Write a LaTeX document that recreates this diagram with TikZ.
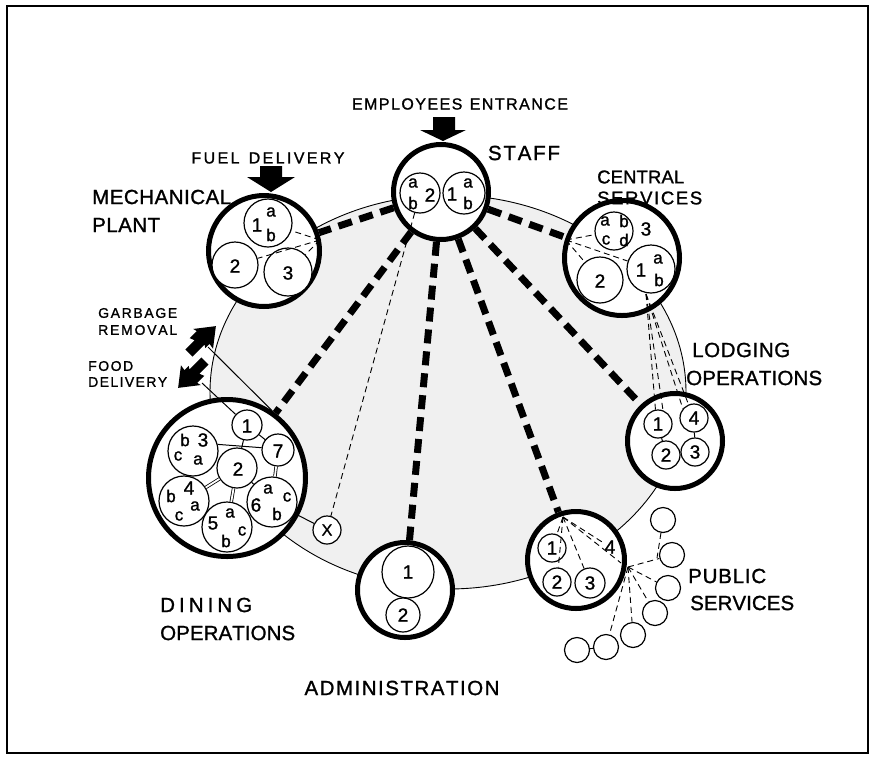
\documentclass[tikz,border=0pt]{standalone}
\usepackage{fontspec}
\setmainfont{Liberation Sans}[FakeBold=1.2]
\def\spreadloop#1{\ifx#1\relax\else#1\hfil\expandafter\spreadloop\fi}
\newcommand\spread[2]{\hbox to #1{\spreadloop#2\relax\unskip}}
\newcommand\Lg{\fontsize{20.5}{20.5}\selectfont}
\newcommand\Lm{\fontsize{18.5}{18.5}\selectfont}
\newcommand\Ls{\fontsize{16}{16}\selectfont}
\newcommand\Lxs{\fontsize{14}{14}\selectfont}
\newcommand\nf{\fontsize{19}{19}\selectfont}
\newcommand\lf{\fontsize{17}{17}\selectfont}
\begin{document}
\begin{tikzpicture}[x=1pt,y=-1pt,
  big/.style={circle, draw, line width=5pt, fill=white, inner sep=0pt},
  sm/.style={circle, draw, line width=1.2pt, fill=white, inner sep=0pt},
  heavy/.style={line width=7pt, dash pattern=on 14pt off 8pt},
  thind/.style={line width=0.9pt, dash pattern=on 6pt off 4pt},
  thinl/.style={line width=1pt},
  dbl/.style={double, double distance=1.8pt, line width=0.8pt},
  lbl/.style={inner sep=0pt, anchor=west},
  txt/.style={inner sep=0pt},
  numt/.style={inner sep=0pt, font=\nf},
  lett/.style={inner sep=0pt, font=\lf}]
\useasboundingbox (0,0) rectangle (875,756);
\draw[line width=1.8pt] (7,6) rectangle (868,753);
% stippled field
\draw[line width=0.9pt, fill=black!6] (448,392) ellipse [x radius=238, y radius=197];

% main nodes
\node[big, minimum size=95pt] (staff) at (441,192) {};
\node[big, minimum size=111pt] (mp) at (264,251) {};
\node[big, minimum size=115pt] (cs) at (622,258) {};
\node[big, minimum size=95pt] (lod) at (675,441) {};
\node[big, minimum size=97pt] (ps) at (576,560) {};
\node[big, minimum size=95pt] (adm) at (405,590) {};
\node[big, minimum size=157pt] (din) at (227,478) {};

% staff inner
\node[sm, minimum size=40pt] (stl) at (420,193) {};
\node[lett] at (413,183) {a};
\node[lett] at (413,203) {b};
\node[numt] at (430,195) {2};
\node[sm, minimum size=42pt] (str) at (464,193) {};
\node[numt] at (452,194) {1};
\node[lett] at (468,183) {a};
\node[lett] at (468,203) {b};

% mechanical plant inner
\node[sm, minimum size=48pt] (mp1) at (268,223) {};
\node[numt] at (257,225) {1};
\node[lett] at (271,212) {a};
\node[lett] at (271,235) {b};
\node[sm, minimum size=46pt] (mp2) at (235,265) {};
\node[numt] at (235,266) {2};
\node[sm, minimum size=48pt] (mp3) at (288,272) {};
\node[numt] at (288,273) {3};

% central services inner
\node[sm, minimum size=38pt] (cs3) at (614,231) {};
\node[lett] at (605,221) {a};
\node[lett] at (624,221) {b};
\node[lett] at (606,240) {c};
\node[lett] at (624,240) {d};
\node[numt] at (646,229) {3};
\node[sm, minimum size=46pt] (cs2) at (600,280) {};
\node[numt] at (600,281) {2};
\node[sm, minimum size=48pt] (cs1) at (651,269) {};
\node[numt] at (641,270) {1};
\node[lett] at (658,259) {a};
\node[lett] at (659,280) {b};

% lodging inner
\node[sm, minimum size=28pt, font=\nf] (l1) at (658,424) {1};
\node[sm, minimum size=28pt, font=\nf] (l4) at (694,418) {4};
\node[sm, minimum size=28pt, font=\nf] (l2) at (666,455) {2};
\node[sm, minimum size=28pt, font=\nf] (l3) at (695,452) {3};
\draw[thinl] (l1) -- (l2);
\draw[thinl] (l4) -- (l3);

% public services inner
\node[sm, minimum size=28pt, font=\nf] (ps1) at (552,548) {1};
\node[sm, minimum size=28pt, font=\nf] (ps2) at (557,582) {2};
\node[sm, minimum size=30pt, font=\nf] (ps3) at (590,583) {3};
\node[numt] (ps4) at (610,547) {4};

% administration inner
\node[sm, minimum size=52pt, font=\nf] (a1) at (408,572) {1};
\node[sm, minimum size=34pt, font=\nf] (a2) at (403,615) {2};

% dining inner
\node[sm, minimum size=30pt] (d1) at (247,425) {};
\node[sm, minimum size=32pt] (d7) at (278,450) {};
\node[sm, minimum size=50pt] (d3) at (193,451) {};
\node[sm, minimum size=40pt] (d2) at (237,468) {};
\node[sm, minimum size=50pt] (d4) at (184,501) {};
\node[sm, minimum size=50pt] (d6) at (272,502) {};
\node[sm, minimum size=50pt] (d5) at (227,527) {};
\draw[thinl] (d3.15) -- (d7.172);
\draw[thinl] (d1) -- (d7);
\draw[thinl] (d1) -- (d2);
\draw[dbl] (d4) -- (d2);
\draw[dbl] (d2) -- (d5);
\draw[thinl] (d2) -- (d6);
\draw[dbl] (d7) -- (d6);
\node[numt] at (247,426) {1};
\node[numt] at (278,451) {7};
\node[numt] at (238,469) {2};
\node[lett] at (185,440) {b};
\node[numt] at (203,440) {3};
\node[lett] at (178,456) {c};
\node[lett] at (198,460) {a};
\node[lett] at (171,496) {b};
\node[numt] at (189,488) {4};
\node[lett] at (195,506) {a};
\node[lett] at (179,516) {c};
\node[numt] at (256,505) {6};
\node[lett] at (268,489) {a};
\node[lett] at (287,497) {c};
\node[lett] at (277,514) {b};
\node[numt] at (213,523) {5};
\node[lett] at (230,513) {a};
\node[lett] at (242,531) {c};
\node[lett] at (226,541) {b};

% X
\node[sm, minimum size=28pt, font=\Ls] (xn) at (327,530) {X};
\draw[thinl] (d6) -- (xn);

% public services small circles
\node[sm, minimum size=25pt] (p1) at (663,520) {};
\node[sm, minimum size=25pt] (p2) at (672,555) {};
\node[sm, minimum size=25pt] (p3) at (668,588) {};
\node[sm, minimum size=25pt] (p4) at (655,613) {};
\node[sm, minimum size=25pt] (p5) at (633,635) {};
\node[sm, minimum size=25pt] (p6) at (606,647) {};
\node[sm, minimum size=25pt] (p7) at (577,650) {};

% heavy dashed links from staff
\draw[heavy] (staff) -- (mp);
\draw[heavy] (staff) -- (cs);
\draw[heavy] (staff) -- (lod);
\draw[heavy] (staff) -- (ps);
\draw[heavy] (staff) -- (adm);
\draw[heavy] (staff) -- (din);

% thin dashed links
\coordinate (mph) at (320,240);
\draw[thind] (mph) -- (mp1);
\draw[thind] (mph) -- (mp2);
\draw[thind] (mph) -- (mp3);
\coordinate (csh) at (566,240);
\draw[thind] (csh) -- (cs3);
\draw[thind] (csh) -- (cs2);
\draw[thind] (csh) -- (cs1);
\coordinate (csb) at (646,294);
\draw[thind] (csb) -- (l1.100);
\draw[thind] (csb) -- (l1.70);
\draw[thind] (csb) -- (l4.140);
\draw[thind] (csb) -- (l4.112);
\coordinate (psh) at (563,517);
\coordinate (pshe) at (621,563);
\draw[thind] (psh) -- (ps1);
\draw[thind] (psh) -- (ps2);
\draw[thind] (psh) -- (ps3);
\draw[thind] (psh) -- (ps4);
\draw[thind] (psh) -- (pshe);
\coordinate (psh2) at (628,567);
\coordinate (pj) at (657,558);
\draw[thind] (psh2) -- (p2);
\draw[thind] (psh2) -- (p3);
\draw[thind] (psh2) -- (p4);
\draw[thind] (psh2) -- (p5);
\draw[thind] (psh2) -- (p6);
\draw[thind] (p1) -- (pj);
\draw[thind] (p7) -- (p6);
\draw[thind] (stl.255) -- (xn);

% delivery arrows
\fill (433,117) -- (455,117) -- (455,130) -- (466,130) -- (443,141) -- (420,130) -- (433,130) -- cycle;
\fill (260,166) -- (282,166) -- (282,177) -- (295,177) -- (271,192) -- (247,177) -- (260,177) -- cycle;
\fill[shift={(189,353)}, rotate=45] (0,-5) -- (13,-5) -- (11,-10) -- (21,-10) -- (20,-14) -- (38,0) -- (20,14) -- (21,8) -- (15,8) -- (17,5) -- (0,5) -- cycle;
\fill[shift={(205,361)}, rotate=225] (0,-5) -- (13,-5) -- (11,-10) -- (21,-10) -- (20,-14) -- (38,0) -- (20,14) -- (21,8) -- (15,8) -- (17,5) -- (0,5) -- cycle;
\coordinate (gar) at (208,347);
\coordinate (food) at (202,383);
\draw[thinl] (gar) -- (din.56);
\draw[thinl] (food) -- (d1);

% labels
\node[txt, font=\Ls] at (460,104) {\spread{216pt}{EMPLOYEES~ENTRANCE}};
\node[txt, font=\Lg] at (524,153) {\spread{72pt}{STAFF}};
\node[txt, font=\Ls] at (268,158) {\spread{153pt}{FUEL~DELIVERY}};
\node[lbl, font=\Lg] at (92,197) {\spread{139pt}{MECHANICAL}};
\node[lbl, font=\Lg] at (92,225) {\spread{68pt}{PLANT}};
\node[lbl, font=\Lm] at (597,177) {\spread{87pt}{CENTRAL}};
\node[lbl, font=\Lm] at (597,198) {\spread{105pt}{SERVICES}};
\node[lbl, font=\Lg] at (692,350) {\spread{98pt}{LODGING}};
\node[lbl, font=\Lg] at (686,378) {\spread{136pt}{OPERATIONS}};
\node[lbl, font=\Lxs] at (98,313) {\spread{79pt}{GARBAGE}};
\node[lbl, font=\Lxs] at (98,330) {\spread{79pt}{REMOVAL}};
\node[lbl, font=\Lxs] at (88,366) {\spread{45pt}{FOOD}};
\node[lbl, font=\Lxs] at (88,382) {\spread{79pt}{DELIVERY}};
\node[lbl, font=\Lg] at (160,605) {\spread{92pt}{DINING}};
\node[lbl, font=\Lg] at (160,633) {\spread{135pt}{OPERATIONS}};
\node[lbl, font=\Lg] at (688,576) {\spread{78pt}{PUBLIC}};
\node[lbl, font=\Lg] at (690,603) {\spread{104pt}{SERVICES}};
\node[txt, font=\Lg] at (402,688) {\spread{195pt}{ADMINISTRATION}};
\end{tikzpicture}
\end{document}
